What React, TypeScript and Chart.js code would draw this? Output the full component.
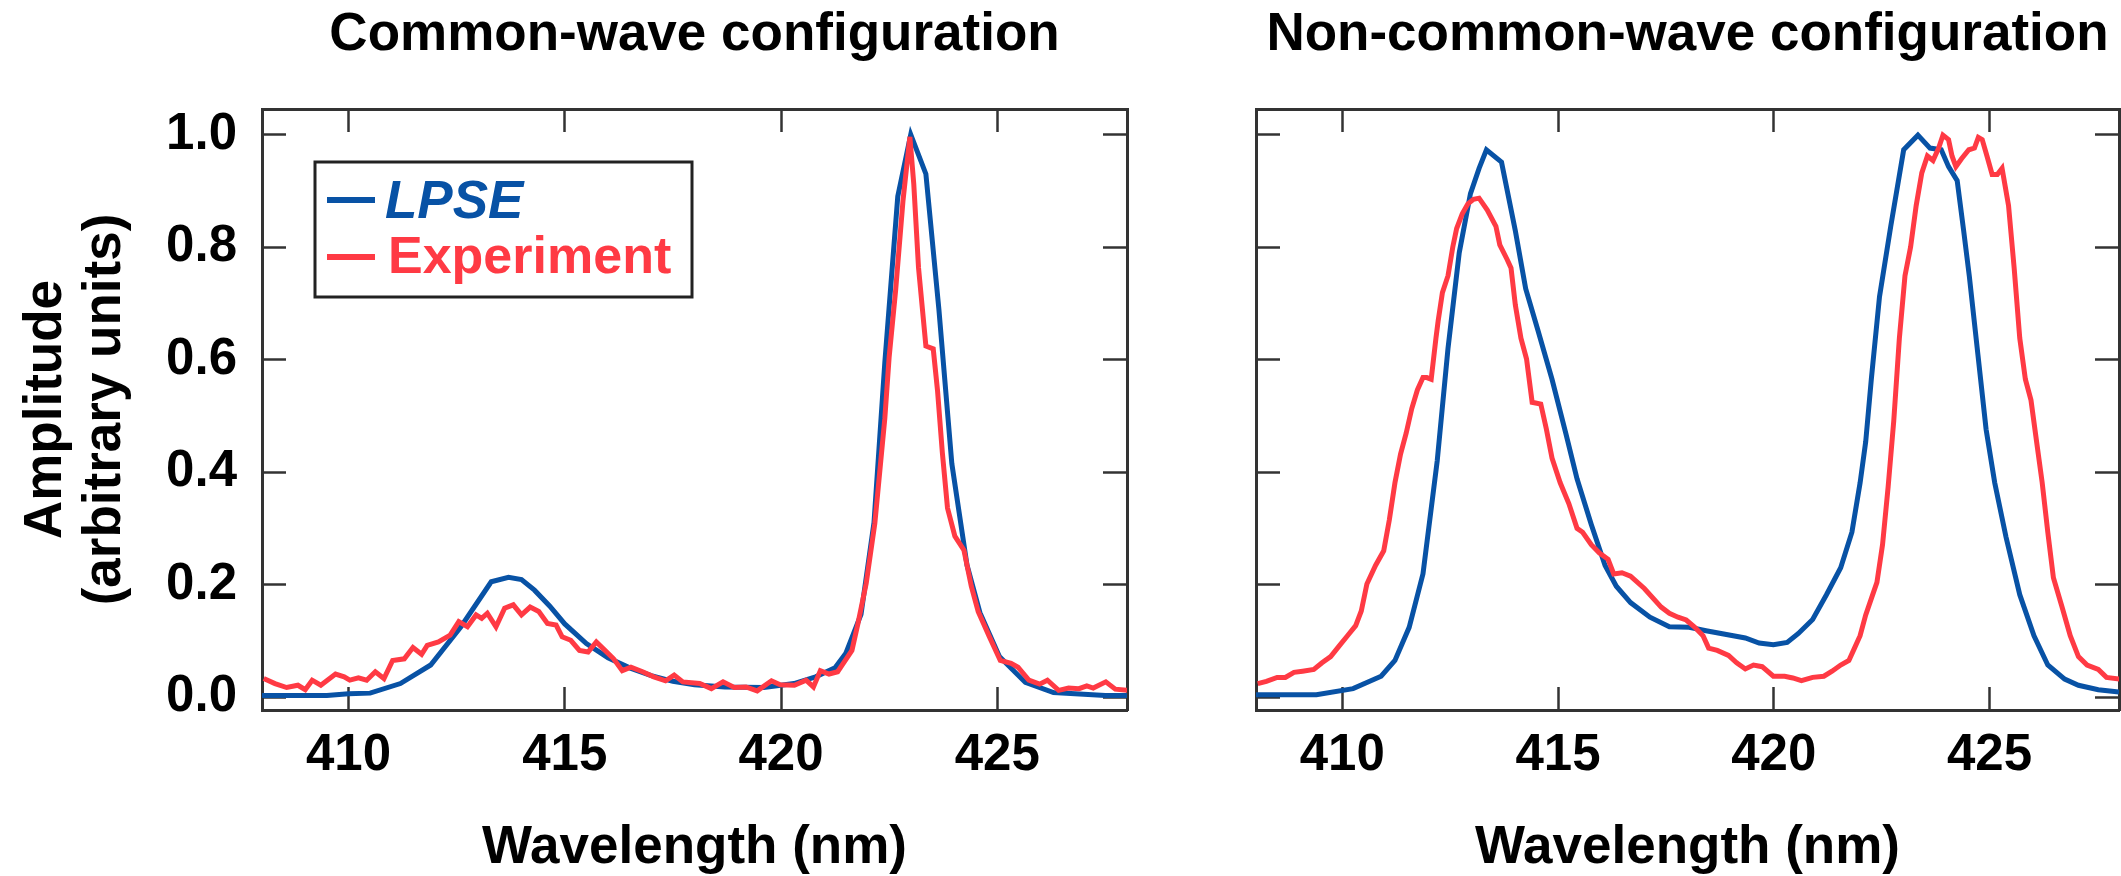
import { useEffect, useRef } from "react";
import { Chart, registerables } from "chart.js";

Chart.register(...registerables);

const FONT = "'Liberation Sans', Arial, Helvetica, sans-serif";
const BLUE = "#0852a5";
const RED = "#ff3a44";
const AXIS = "#333333";

const xTickValues = [410, 415, 420, 425];
const yTickValues = [0, 0.2, 0.4, 0.6, 0.8, 1.0];
const seriesLabels = ["LPSE", "Experiment"];
const panelTitles = ["Common-wave configuration", "Non-common-wave configuration"];
const xTitle = "Wavelength (nm)";
const yTitle = ["Amplitude", "(arbitrary units)"];

// Common-wave configuration, LPSE
const commonLpseX = [408.0, 409.5, 410.0, 410.5, 411.2, 411.9, 412.6, 413.3, 413.7, 414.0, 414.3, 414.65, 415.0, 415.5, 416.0, 416.5, 417.0, 417.5, 418.0, 418.7, 419.6, 420.3, 420.8, 421.25, 421.5, 421.85, 422.15, 422.4, 422.7, 423.0, 423.35, 423.65, 423.95, 424.3, 424.6, 425.05, 425.65, 426.3, 427.0, 427.5, 428.0];
const commonLpseY = [0.003, 0.003, 0.006, 0.007, 0.024, 0.057, 0.125, 0.205, 0.213, 0.209, 0.19, 0.162, 0.13, 0.095, 0.07, 0.052, 0.038, 0.028, 0.022, 0.018, 0.017, 0.024, 0.036, 0.052, 0.078, 0.147, 0.31, 0.594, 0.89, 1.0, 0.93, 0.69, 0.415, 0.235, 0.15, 0.072, 0.026, 0.008, 0.005, 0.003, 0.003];

// Common-wave configuration, Experiment
const commonExpX = [408.04, 408.3, 408.57, 408.83, 409.0, 409.16, 409.36, 409.7, 409.9, 410.03, 410.23, 410.42, 410.62, 410.82, 411.02, 411.29, 411.49, 411.69, 411.82, 412.08, 412.35, 412.55, 412.75, 412.95, 413.08, 413.21, 413.41, 413.61, 413.81, 414.0, 414.2, 414.4, 414.6, 414.8, 414.94, 415.14, 415.34, 415.54, 415.73, 415.93, 416.13, 416.33, 416.53, 416.8, 417.06, 417.33, 417.53, 417.73, 418.12, 418.39, 418.66, 418.92, 419.19, 419.45, 419.78, 419.98, 420.31, 420.58, 420.75, 420.91, 421.11, 421.31, 421.44, 421.64, 421.78, 421.97, 422.17, 422.4, 422.5, 422.65, 422.82, 422.98, 423.07, 423.18, 423.35, 423.52, 423.62, 423.73, 423.85, 424.02, 424.23, 424.4, 424.56, 424.82, 425.07, 425.32, 425.48, 425.73, 425.98, 426.16, 426.42, 426.65, 426.89, 427.07, 427.22, 427.51, 427.73, 428.04];
const commonExpY = [0.033, 0.024, 0.017, 0.021, 0.013, 0.03, 0.021, 0.041, 0.036, 0.03, 0.034, 0.03, 0.045, 0.033, 0.065, 0.068, 0.088, 0.076, 0.092, 0.098, 0.11, 0.134, 0.125, 0.146, 0.14, 0.149, 0.125, 0.158, 0.164, 0.146, 0.16, 0.152, 0.131, 0.128, 0.107, 0.101, 0.083, 0.08, 0.098, 0.083, 0.068, 0.047, 0.053, 0.045, 0.036, 0.029, 0.039, 0.027, 0.024, 0.015, 0.027, 0.017, 0.018, 0.011, 0.029, 0.022, 0.021, 0.03, 0.018, 0.047, 0.041, 0.045, 0.06, 0.083, 0.131, 0.202, 0.309, 0.495, 0.604, 0.723, 0.882, 0.996, 0.912, 0.763, 0.624, 0.619, 0.544, 0.435, 0.336, 0.286, 0.261, 0.197, 0.152, 0.107, 0.065, 0.06, 0.053, 0.03, 0.023, 0.03, 0.012, 0.016, 0.015, 0.02, 0.016, 0.027, 0.014, 0.012];

// Non-common-wave configuration, LPSE
const nonCommonLpseX = [408.0, 409.4, 410.25, 410.9, 411.22, 411.55, 411.87, 412.2, 412.45, 412.71, 412.97, 413.17, 413.34, 413.69, 414.01, 414.25, 414.53, 414.86, 415.18, 415.44, 415.77, 416.09, 416.35, 416.68, 417.13, 417.58, 418.04, 418.43, 419.34, 419.66, 419.99, 420.31, 420.57, 420.9, 421.22, 421.55, 421.81, 422.0, 422.13, 422.26, 422.45, 422.71, 423.01, 423.34, 423.62, 423.88, 424.05, 424.25, 424.4, 424.53, 424.73, 424.92, 425.12, 425.38, 425.7, 426.03, 426.35, 426.74, 427.06, 427.52, 428.0];
const nonCommonLpseY = [0.004, 0.004, 0.015, 0.037, 0.065, 0.124, 0.219, 0.42, 0.62, 0.79, 0.895, 0.94, 0.973, 0.951, 0.829, 0.726, 0.653, 0.565, 0.469, 0.388, 0.307, 0.234, 0.197, 0.168, 0.142, 0.125, 0.124, 0.118, 0.105, 0.096, 0.093, 0.097, 0.113, 0.138, 0.182, 0.23, 0.293, 0.381, 0.454, 0.565, 0.712, 0.837, 0.973, 0.999, 0.976, 0.973, 0.943, 0.918, 0.829, 0.749, 0.609, 0.476, 0.381, 0.285, 0.182, 0.109, 0.057, 0.032, 0.021, 0.013, 0.009];

// Non-common-wave configuration, Experiment
const nonCommonExpX = [408.04, 408.24, 408.49, 408.68, 408.88, 409.08, 409.34, 409.53, 409.73, 409.92, 410.12, 410.31, 410.44, 410.57, 410.77, 410.96, 411.09, 411.22, 411.35, 411.48, 411.61, 411.74, 411.87, 411.96, 412.06, 412.17, 412.22, 412.32, 412.45, 412.56, 412.65, 412.78, 412.91, 413.04, 413.17, 413.36, 413.56, 413.65, 413.82, 413.91, 414.01, 414.14, 414.27, 414.4, 414.6, 414.73, 414.86, 415.05, 415.25, 415.44, 415.57, 415.77, 415.96, 416.16, 416.29, 416.48, 416.68, 417.0, 417.39, 417.58, 417.78, 417.97, 418.17, 418.36, 418.49, 418.69, 418.95, 419.14, 419.34, 419.53, 419.73, 419.99, 420.25, 420.44, 420.64, 420.9, 421.16, 421.35, 421.55, 421.74, 421.87, 422.0, 422.13, 422.26, 422.39, 422.52, 422.65, 422.78, 422.91, 423.04, 423.17, 423.3, 423.43, 423.56, 423.69, 423.82, 423.92, 424.05, 424.13, 424.22, 424.35, 424.52, 424.65, 424.74, 424.83, 424.94, 425.06, 425.18, 425.29, 425.44, 425.57, 425.7, 425.83, 425.96, 426.09, 426.22, 426.35, 426.48, 426.68, 426.87, 427.06, 427.26, 427.52, 427.71, 428.01];
const nonCommonExpY = [0.024, 0.028, 0.035, 0.035, 0.044, 0.046, 0.049, 0.061, 0.072, 0.09, 0.109, 0.127, 0.153, 0.201, 0.234, 0.26, 0.315, 0.381, 0.432, 0.469, 0.513, 0.546, 0.568, 0.568, 0.565, 0.638, 0.668, 0.719, 0.749, 0.8, 0.833, 0.859, 0.877, 0.885, 0.887, 0.866, 0.837, 0.804, 0.778, 0.763, 0.697, 0.638, 0.601, 0.524, 0.521, 0.476, 0.425, 0.381, 0.344, 0.3, 0.293, 0.271, 0.256, 0.245, 0.219, 0.221, 0.215, 0.193, 0.16, 0.149, 0.142, 0.137, 0.124, 0.109, 0.087, 0.083, 0.074, 0.061, 0.05, 0.057, 0.054, 0.037, 0.037, 0.034, 0.029, 0.035, 0.037, 0.046, 0.057, 0.065, 0.087, 0.109, 0.146, 0.175, 0.204, 0.271, 0.374, 0.491, 0.638, 0.749, 0.8, 0.874, 0.932, 0.962, 0.954, 0.976, 0.999, 0.991, 0.962, 0.943, 0.957, 0.973, 0.976, 0.995, 0.991, 0.962, 0.929, 0.929, 0.94, 0.874, 0.763, 0.638, 0.565, 0.528, 0.454, 0.381, 0.293, 0.212, 0.16, 0.109, 0.072, 0.057, 0.049, 0.035, 0.032];

const toPoints = (xs: number[], ys: number[]) => xs.map((x, i) => ({ x, y: ys[i] }));

const legendBoxPlugin = {
  id: "legendBox",
  afterDraw(chart: any) {
    const { ctx, chartArea } = chart;
    const left = chartArea.left + 53;
    const top = chartArea.top + 53;
    const width = 377;
    const height = 135;
    ctx.save();
    ctx.fillStyle = "#ffffff";
    ctx.fillRect(left, top, width, height);
    ctx.lineWidth = 3;
    ctx.strokeStyle = "#222222";
    ctx.strokeRect(left, top, width, height);
    const fonts = [`italic bold 53px ${FONT}`, `bold 52px ${FONT}`];
    chart.data.datasets.forEach((ds: any, i: number) => {
      const y = top + 38 + i * 57;
      ctx.strokeStyle = ds.borderColor;
      ctx.lineWidth = 6;
      ctx.beginPath();
      ctx.moveTo(left + 12, y);
      ctx.lineTo(left + 60, y);
      ctx.stroke();
      ctx.fillStyle = ds.borderColor;
      ctx.font = fonts[i];
      ctx.textAlign = "left";
      ctx.textBaseline = "alphabetic";
      ctx.fillText(ds.label, left + 70 + i * 3, y + 17.5 - i * 1.2);
    });
    ctx.restore();
  },
};

function buildConfig(
  title: string,
  lpse: { x: number; y: number }[],
  exp: { x: number; y: number }[],
  showYLabels: boolean,
  leftWidth: number,
  rightWidth: number,
  withLegend: boolean
): any {
  const tickFont = { family: FONT, size: 51, weight: "bold" as const };
  const common = {
    type: "linear" as const,
    display: true,
    border: { display: true, color: AXIS, width: 3 },
  };
  return {
    type: "line",
    data: {
      datasets: [
        {
          label: seriesLabels[0],
          data: lpse,
          borderColor: BLUE,
          backgroundColor: BLUE,
          borderWidth: 5,
          pointRadius: 0,
          tension: 0,
          fill: false,
          order: 1,
          xAxisID: "x",
          yAxisID: "y",
        },
        {
          label: seriesLabels[1],
          data: exp,
          borderColor: RED,
          backgroundColor: RED,
          borderWidth: 5,
          pointRadius: 0,
          tension: 0,
          fill: false,
          order: 0,
          xAxisID: "x",
          yAxisID: "y",
        },
      ],
    },
    options: {
      responsive: false,
      animation: false,
      devicePixelRatio: 1,
      events: [],
      layout: { padding: 0 },
      plugins: {
        legend: { display: false },
        tooltip: { enabled: false },
        title: {
          display: true,
          text: title,
          fullSize: false,
          color: "#000000",
          font: { family: FONT, size: 53, weight: "bold", lineHeight: 1.2 },
          padding: { top: 4, bottom: 41.4 },
        },
      },
      scales: {
        x: {
          ...common,
          axis: "x",
          position: "bottom",
          min: 408,
          max: 428,
          afterBuildTicks: (s: any) => {
            s.ticks = xTickValues.map((v) => ({ value: v }));
          },
          afterFit: (s: any) => {
            s.height = 166;
          },
          grid: { display: true, drawOnChartArea: false, drawTicks: true, tickLength: -23, tickWidth: 2.5, tickColor: AXIS },
          ticks: {
            display: true,
            padding: 38,
            autoSkip: false,
            maxRotation: 0,
            minRotation: 0,
            color: "#000000",
            font: tickFont,
            callback: (v: any) => String(v),
          },
          title: {
            display: true,
            text: xTitle,
            color: "#000000",
            font: { family: FONT, size: 53, weight: "bold", lineHeight: 1 },
            padding: { top: 0, bottom: 1 },
          },
        },
        xTop: {
          ...common,
          axis: "x",
          position: "top",
          min: 408,
          max: 428,
          afterBuildTicks: (s: any) => {
            s.ticks = xTickValues.map((v) => ({ value: v }));
          },
          afterFit: (s: any) => {
            s.height = 0;
          },
          grid: { display: true, drawOnChartArea: false, drawTicks: true, tickLength: -23, tickWidth: 2.5, tickColor: AXIS },
          ticks: { display: false },
          title: { display: false },
        },
        y: {
          ...common,
          axis: "y",
          position: "left",
          min: -0.023,
          max: 1.0455,
          afterBuildTicks: (s: any) => {
            s.ticks = yTickValues.map((v) => ({ value: v }));
          },
          afterFit: (s: any) => {
            s.width = leftWidth;
          },
          grid: { display: true, drawOnChartArea: false, drawTicks: true, tickLength: -24, tickWidth: 2.5, tickColor: AXIS },
          ticks: {
            display: showYLabels,
            padding: 49,
            autoSkip: false,
            color: "#000000",
            font: tickFont,
            callback: (v: any) => Number(v).toFixed(1),
          },
          title: {
            display: showYLabels,
            text: yTitle,
            color: "#000000",
            font: { family: FONT, size: 53, weight: "bold", lineHeight: 1.113 },
            padding: { top: 17, bottom: 0 },
          },
        },
        yRight: {
          ...common,
          axis: "y",
          position: "right",
          min: -0.023,
          max: 1.0455,
          afterBuildTicks: (s: any) => {
            s.ticks = yTickValues.map((v) => ({ value: v }));
          },
          afterFit: (s: any) => {
            s.width = rightWidth;
          },
          grid: { display: true, drawOnChartArea: false, drawTicks: true, tickLength: -24, tickWidth: 2.5, tickColor: AXIS },
          ticks: { display: false },
          title: { display: false },
        },
      },
    },
    plugins: withLegend ? [legendBoxPlugin] : [],
  };
}

export default function App() {
  const leftRef = useRef<HTMLCanvasElement | null>(null);
  const rightRef = useRef<HTMLCanvasElement | null>(null);

  useEffect(() => {
    document.body.style.margin = "0";
    if (!leftRef.current || !rightRef.current) return;
    const left = new Chart(
      leftRef.current,
      buildConfig(panelTitles[0], toPoints(commonLpseX, commonLpseY), toPoints(commonExpX, commonExpY), true, 262, 13, true)
    );
    const right = new Chart(
      rightRef.current,
      buildConfig(panelTitles[1], toPoints(nonCommonLpseX, nonCommonLpseY), toPoints(nonCommonExpX, nonCommonExpY), false, 116, 2, false)
    );
    return () => {
      left.destroy();
      right.destroy();
    };
  }, []);

  return (
    <div style={{ position: "absolute", left: 0, top: 0, width: 2121, height: 876, overflow: "hidden", background: "#ffffff" }}>
      <canvas ref={leftRef} width={1140} height={876} style={{ position: "absolute", left: 0, top: 0, width: 1140, height: 876, display: "block" }} />
      <canvas ref={rightRef} width={981} height={876} style={{ position: "absolute", left: 1140, top: 0, width: 981, height: 876, display: "block" }} />
    </div>
  );
}
